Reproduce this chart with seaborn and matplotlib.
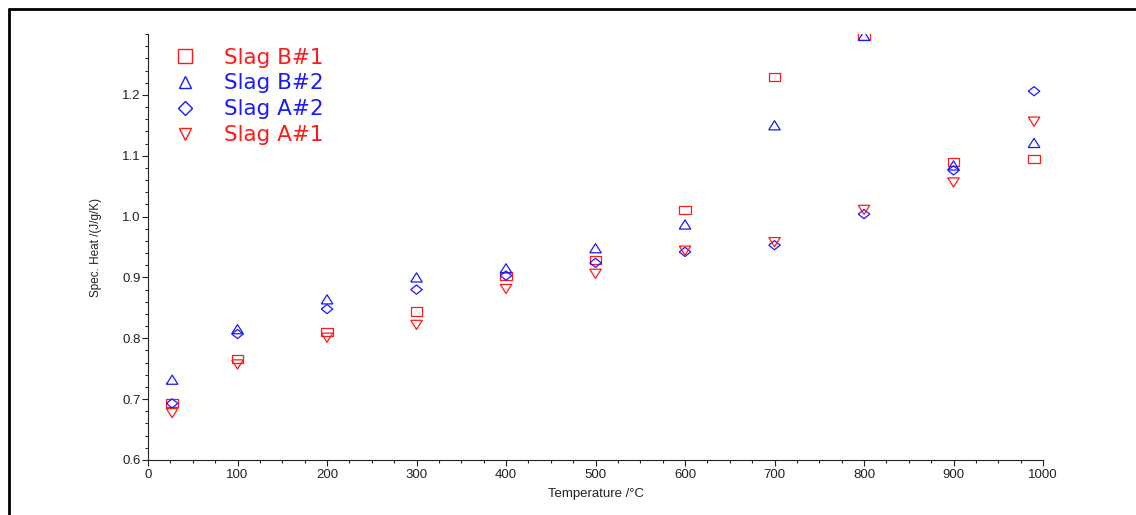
import numpy as np
import pandas as pd
import seaborn as sns
import matplotlib.pyplot as plt
from matplotlib.lines import Line2D
from matplotlib.ticker import MultipleLocator

temperatura = [27, 100, 200, 300, 400, 500, 600, 700, 800, 900, 990]
slag_b1 = [0.693, 0.766, 0.810, 0.844, 0.902, 0.929, 1.011, 1.230, 1.297, 1.090, 1.095]
slag_b2 = [0.732, 0.815, 0.864, 0.900, 0.915, 0.948, 0.987, 1.150, 1.297, 1.084, 1.121]
slag_a2 = [0.693, 0.807, 0.848, 0.880, 0.903, 0.924, 0.942, 0.953, 1.004, 1.076, 1.206]
slag_a1 = [0.677, 0.757, 0.801, 0.822, 0.881, 0.906, 0.944, 0.958, 1.011, 1.056, 1.156]

series = ['Slag B#1', 'Slag B#2', 'Slag A#2', 'Slag A#1']
cores = ['#ff1a1a', '#1a1aff', '#1a1aff', '#ff1a1a']

df = pd.DataFrame({'temp': temperatura, 'Slag B#1': slag_b1, 'Slag B#2': slag_b2,
                   'Slag A#2': slag_a2, 'Slag A#1': slag_a1})
df = df.melt(id_vars='temp', var_name='serie', value_name='cp')

# marcadores um pouco achatados, como no original
marcadores = {
    'Slag B#1': [(-1, -0.7), (1, -0.7), (1, 0.7), (-1, 0.7), (-1, -0.7)],
    'Slag B#2': [(-1, -0.8), (1, -0.8), (0, 0.8), (-1, -0.8)],
    'Slag A#2': [(-1, 0), (0, 0.8), (1, 0), (0, -0.8), (-1, 0)],
    'Slag A#1': [(-1, 0.8), (1, 0.8), (0, -0.8), (-1, 0.8)],
}
marc_legenda = ['s', '^', 'D', 'v']
tam_legenda = [10, 9, 7, 9]

sns.set_theme(style="ticks")
plt.rcParams['font.family'] = ['Liberation Sans', 'DejaVu Sans']

fig = plt.figure(figsize=(11.36, 5.15), dpi=100)
ax = fig.add_axes([148 / 1136, 55 / 515, 895 / 1136, 426 / 515])

for nome, cor in zip(series, cores):
    sub = df[df['serie'] == nome]
    sns.scatterplot(data=sub, x='temp', y='cp', marker=marcadores[nome], s=68,
                    color=cor, facecolor='none', edgecolor=cor, linewidth=0.9,
                    legend=False, ax=ax, zorder=3)

ax.set_xlim(0, 1000)
ax.set_ylim(0.6, 1.3)
ax.set_xticks(np.arange(0, 1001, 100))
ax.set_yticks(np.arange(0.6, 1.21, 0.1))
ax.xaxis.set_minor_locator(MultipleLocator(25))
ax.yaxis.set_minor_locator(MultipleLocator(0.02))
ax.set_yticklabels([f'{v:.1f}' for v in np.arange(0.6, 1.21, 0.1)])

sns.despine(ax=ax)
for s in ['left', 'bottom']:
    ax.spines[s].set_linewidth(0.8)
    ax.spines[s].set_color('#222222')
ax.tick_params(which='major', length=4.3, width=0.8, color='#222222',
               labelsize=9.5, labelcolor='#222222')
ax.tick_params(which='minor', length=2.5, width=0.8, color='#222222')
ax.tick_params(axis='y', which='both', pad=1)
ax.tick_params(axis='x', which='both', pad=2)

ax.set_xlabel('Temperature /°C', fontsize=9.5, color='#222222')
ax.set_ylabel('Spec. Heat /(J/g/K)', fontsize=8.5, color='#222222')
ax.xaxis.set_label_coords(0.5, -0.066)
ax.yaxis.set_label_coords(-0.051, 0.5)

handles = [Line2D([], [], ls='none', marker=m, mfc='none', mec=c, ms=t, mew=1)
           for m, c, t in zip(marc_legenda, cores, tam_legenda)]
leg = ax.legend(handles, series, loc='upper left', bbox_to_anchor=(0.1537, 0.9075),
                bbox_transform=fig.transFigure, frameon=False,
                prop={'family': 'DejaVu Sans', 'size': 15.5},
                handlelength=1.0, handletextpad=1.3, labelspacing=0.27,
                borderaxespad=0, borderpad=0)
for txt, c in zip(leg.get_texts(), cores):
    txt.set_color(c)

# moldura preta (lados de cima e da esquerda)
fig.add_artist(Line2D([0.0077, 0.0077], [0, 0.9816], transform=fig.transFigure,
                      color='black', lw=2))
fig.add_artist(Line2D([0.0077, 1], [0.9816, 0.9816], transform=fig.transFigure,
                      color='black', lw=2))

fig.savefig('out.png', dpi=100)
